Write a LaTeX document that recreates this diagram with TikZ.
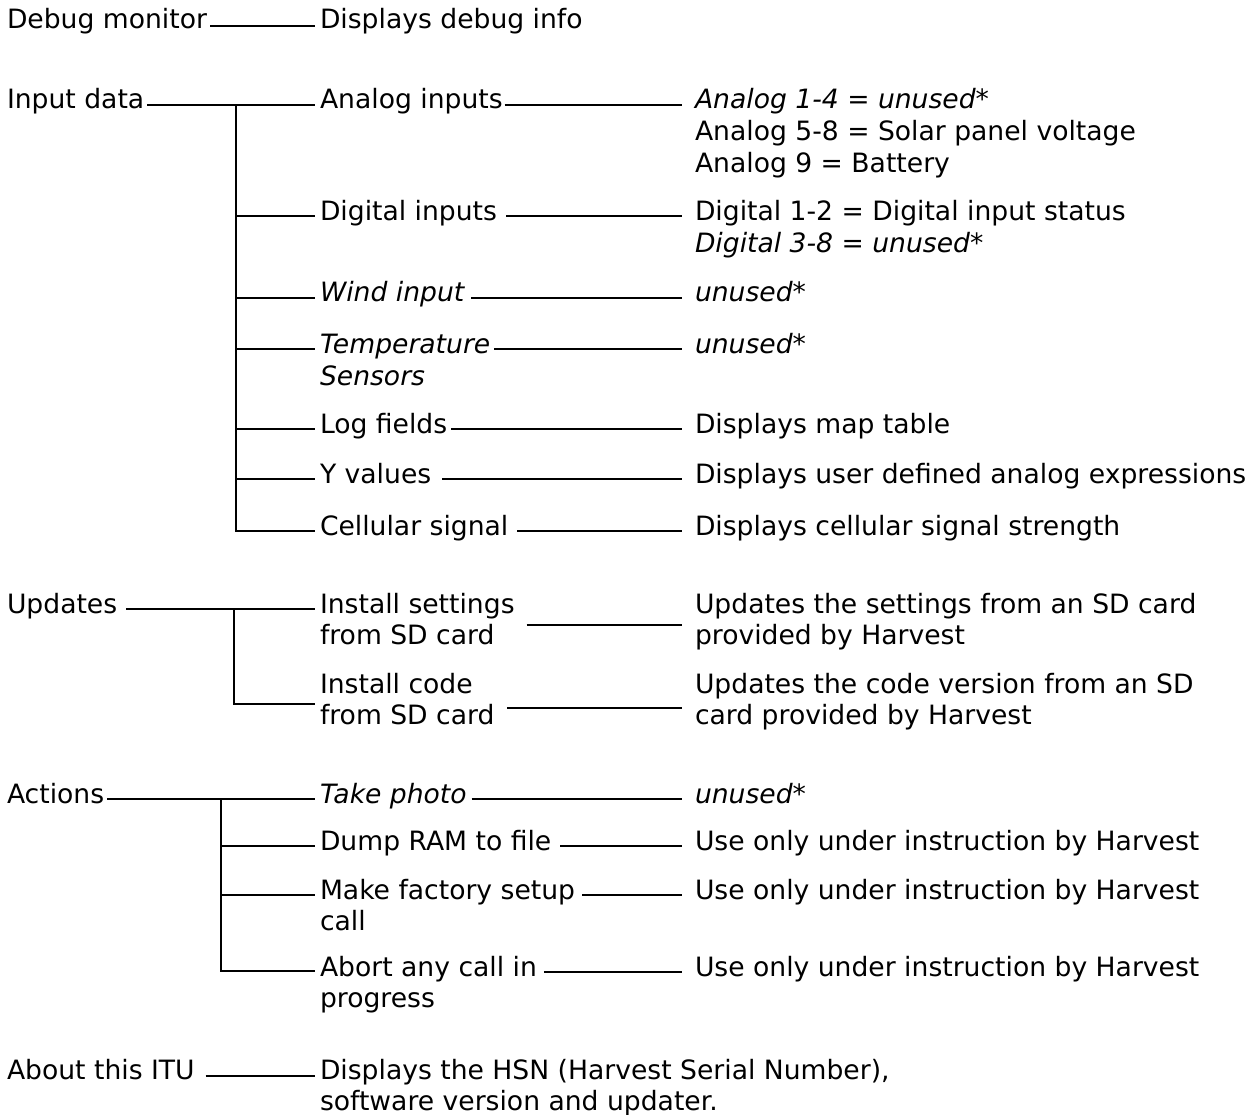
\documentclass[tikz,border=0pt]{standalone}
\usepackage{fontspec}
\setmainfont{DejaVu Sans}
\usetikzlibrary{calc}
\newcommand\fsz{\fontsize{26.6}{31}\selectfont}
\begin{document}
\begin{tikzpicture}[x=1pt,y=-1pt,
  lbl/.style={inner sep=0pt, outer sep=0pt, anchor=base west, font=\fsz},
  itl/.style={lbl, font=\fsz\itshape},
  conn/.style={line width=2.7pt}]
\useasboundingbox[fill=white] (0,0) rectangle (1256,1115);

% ---------- Debug monitor
\node[lbl] (dbg) at (7,29) {Debug monitor};
\node[lbl] (dbgR) at (320,29) {Displays debug info};
\draw[conn] ($(dbg.base east)+(3,-3)$) -- ($(dbgR.base west)+(-5,-3)$);

% ---------- Input data
\node[lbl] (inp) at (7,109) {Input data};
\node[lbl] (ana) at (320,109) {Analog inputs};
\node[itl] (ana1) at (695,109) {Analog 1-4 = unused*};
\node[lbl] (ana2) at (695,141) {Analog 5-8 = Solar panel voltage};
\node[lbl] (ana3) at (695,173) {Analog 9 = Battery};
\node[lbl] (dig) at (320,221) {Digital inputs};
\node[lbl] (dig1) at (695,221) {Digital 1-2 = Digital input status};
\node[itl] (dig2) at (695,253) {Digital 3-8 = unused*};
\node[itl] (wind) at (320,302) {Wind input};
\node[itl] (windR) at (695,302) {unused*};
\node[itl] (temp) at (320,353) {Temperature};
\node[itl] (temp2) at (320,385) {Sensors};
\node[itl] (tempR) at (695,353) {unused*};
\node[lbl] (log) at (320,433) {Log fields};
\node[lbl] (logR) at (695,433) {Displays map table};
\node[lbl] (yv) at (320,483) {Y values};
\node[lbl] (yvR) at (695,483) {Displays user defined analog expressions};
\node[lbl] (cell) at (320,535) {Cellular signal};
\node[lbl] (cellR) at (695,535) {Displays cellular signal strength};

\coordinate (tIn) at (236,105);
\coordinate (digB) at ($(dig.base west)+(-5,-5)$);
\coordinate (windB) at ($(wind.base west)+(-5,-4)$);
\coordinate (tempB) at ($(temp.base west)+(-5,-4)$);
\coordinate (logB) at ($(log.base west)+(-5,-4)$);
\coordinate (yvB) at ($(yv.base west)+(-5,-4)$);
\coordinate (cellB) at ($(cell.base west)+(-5,-4)$);

\draw[conn] ($(inp.base east)+(3,-4)$) -- ($(ana.base west)+(-5,-4)$);
\draw[conn] (tIn) |- (cellB);
\draw[conn] (tIn |- digB) -- (digB);
\draw[conn] (tIn |- windB) -- (windB);
\draw[conn] (tIn |- tempB) -- (tempB);
\draw[conn] (tIn |- logB) -- (logB);
\draw[conn] (tIn |- yvB) -- (yvB);

\draw[conn] ($(ana.base east)+(2,-4)$) -- ($(ana1.base west)+(-13,-4)$);
\draw[conn] ($(dig.base east)+(9,-5)$) -- ($(dig1.base west)+(-13,-5)$);
\draw[conn] ($(wind.base east)+(7,-4)$) -- ($(windR.base west)+(-13,-4)$);
\draw[conn] ($(temp.base east)+(4,-4)$) -- ($(tempR.base west)+(-13,-4)$);
\draw[conn] ($(log.base east)+(4,-4)$) -- ($(logR.base west)+(-13,-4)$);
\draw[conn] ($(yv.base east)+(11,-4)$) -- ($(yvR.base west)+(-13,-4)$);
\draw[conn] ($(cell.base east)+(9,-4)$) -- ($(cellR.base west)+(-13,-4)$);

% ---------- Updates
\node[lbl] (upd) at (7,613) {Updates};
\node[lbl] (set1) at (320,613) {Install settings};
\node[lbl] (set2) at (320,644) {from SD card};
\node[lbl] (setR1) at (695,613) {Updates the settings from an SD card};
\node[lbl] (setR2) at (695,644) {provided by Harvest};
\node[lbl] (code1) at (320,693) {Install code};
\node[lbl] (code2) at (320,724) {from SD card};
\node[lbl] (codeR1) at (695,693) {Updates the code version from an SD};
\node[lbl] (codeR2) at (695,724) {card provided by Harvest};

\coordinate (tUp) at (234,609);
\coordinate (codeB) at ($(code1.base west)+(-5,11)$);
\draw[conn] ($(upd.base east)+(9,-4)$) -- ($(set1.base west)+(-5,-4)$);
\draw[conn] (tUp) |- (codeB);
\draw[conn] ($(set1.base east)+(12,12)$) -- ($(setR1.base west)+(-13,12)$);
\draw[conn] ($(code2.base east)+(13,-16)$) -- ($(codeR2.base west)+(-13,-16)$);

% ---------- Actions
\node[lbl] (act) at (7,803) {Actions};
\node[itl] (photo) at (320,803) {Take photo};
\node[itl] (photoR) at (695,803) {unused*};
\node[lbl] (dump) at (320,850) {Dump RAM to file};
\node[lbl] (dumpR) at (695,850) {Use only under instruction by Harvest};
\node[lbl] (fac1) at (320,899) {Make factory setup};
\node[lbl] (fac2) at (320,930) {call};
\node[lbl] (facR) at (695,899) {Use only under instruction by Harvest};
\node[lbl] (abt1) at (320,976) {Abort any call in};
\node[lbl] (abt2) at (320,1007) {progress};
\node[lbl] (abtR) at (695,976) {Use only under instruction by Harvest};

\coordinate (tAc) at (221,799);
\coordinate (dumpB) at ($(dump.base west)+(-5,-4)$);
\coordinate (facB) at ($(fac1.base west)+(-5,-4)$);
\coordinate (abtB) at ($(abt1.base west)+(-5,-5)$);
\draw[conn] ($(act.base east)+(3,-4)$) -- ($(photo.base west)+(-5,-4)$);
\draw[conn] (tAc) |- (abtB);
\draw[conn] (tAc |- dumpB) -- (dumpB);
\draw[conn] (tAc |- facB) -- (facB);

\draw[conn] ($(photo.base east)+(5,-4)$) -- ($(photoR.base west)+(-13,-4)$);
\draw[conn] ($(dump.base east)+(9,-4)$) -- ($(dumpR.base west)+(-13,-4)$);
\draw[conn] ($(fac1.base east)+(7,-4)$) -- ($(facR.base west)+(-13,-4)$);
\draw[conn] ($(abt1.base east)+(7,-4)$) -- ($(abtR.base west)+(-13,-4)$);

% ---------- About this ITU
\node[lbl] (itu) at (7,1079) {About this ITU};
\node[lbl] (ituR1) at (320,1079) {Displays the HSN (Harvest Serial Number),};
\node[lbl] (ituR2) at (320,1110) {software version and updater.};
\draw[conn] ($(itu.base east)+(11,-3)$) -- ($(ituR1.base west)+(-5,-3)$);
\end{tikzpicture}
\end{document}
